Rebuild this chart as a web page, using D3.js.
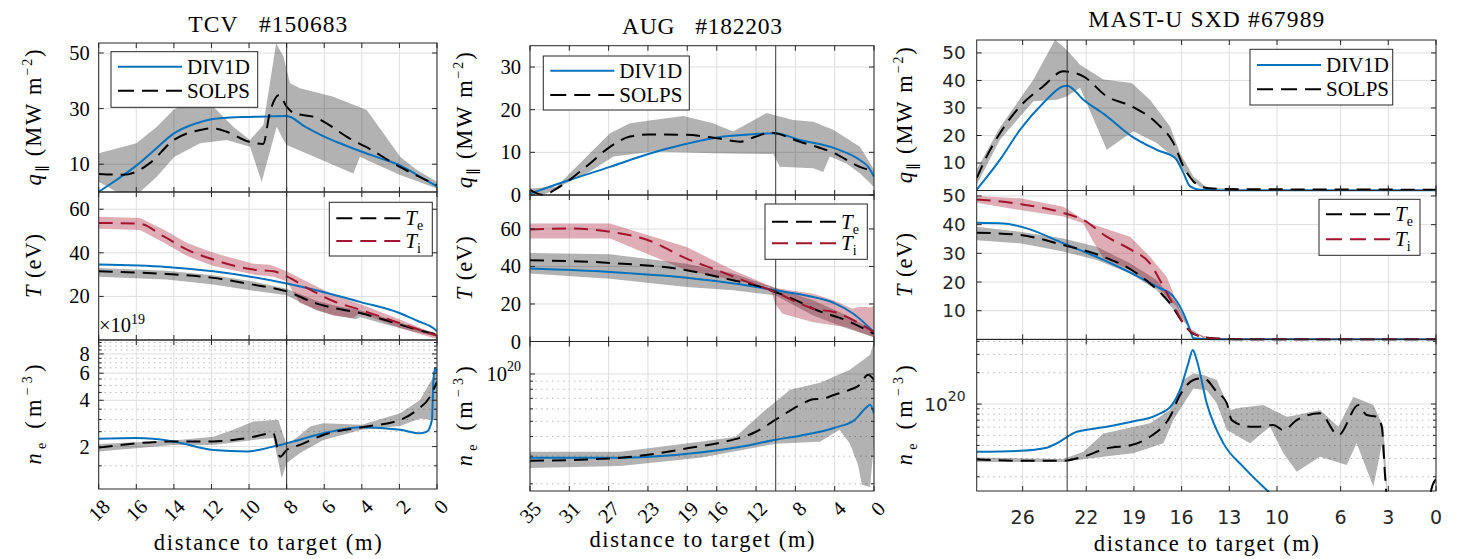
<!DOCTYPE html>
<html>
<head>
<meta charset="utf-8">
<script src="https://cdn.jsdelivr.net/npm/d3@7"></script>
<style>body{margin:0;background:#fff}</style>
</head>
<body>
<svg id="fig" width="1464" height="559"></svg>
<script>
// ---- tick values ----
const tcvXTicks = [18, 16, 14, 12, 10, 8, 6, 4, 2, 0];
const augXTicks = [35, 31, 27, 23, 19, 16, 12, 8, 4, 0];
const mastXTicks = [26, 22, 19, 16, 13, 10, 6, 3, 0];
const tcvQTicks = [10, 30, 50], tcvTTicks = [20, 40, 60];
const tcvNeTicks = [2, 4, 6, 8], tcvNeMinor = [1.5, 2.5, 3, 3.5, 4.5, 5, 5.5, 6.5, 7, 7.5, 8.5, 9, 9.5];
const augQTicks = [0, 10, 20, 30], augTTicks = [0, 20, 40, 60];
const augNeTicks = [10], augNeMinor = [2, 3, 4, 5, 6, 7, 8, 9];
const mastQTicks = [10, 20, 30, 40, 50], mastTTicks = [10, 20, 30, 40, 50];
const mastNeTicks = [10], mastNeMinor = [2, 3, 4, 5, 6, 7, 8, 9, 20, 30, 40];
const markerDist = [8, 10, 23.2];   // thin vertical line per machine

// ---- TCV #150683 ----  [distance (m), value]   n_e in 1e19 m^-3
const tcvQDiv = [[18,0.1],[17,4.6],[16,9.5],[15,15.3],[14,21.1],[13,24.3],[12,26.2],[11,26.8],[10,27.0],[9,27.2],[8,27.3],[7,23.4],[6,19.9],[5,17.1],[4,14.5],[3,12.1],[2,9.7],[1,5.9],[0,2.0]];
const tcvQSolps = [[18,6.5],[16.7,6.2],[16,7.3],[15.3,10.3],[14,18.7],[12.6,22.3],[12,22.9],[11.2,21.7],[10,18.1],[9.25,17.3],[8.9,28.4],[8.4,34.9],[8,30.7],[7.6,28.3],[6.6,27.1],[4.5,18.7],[3.8,16.3],[2,9.1],[0,2.5]];
const tcvQBandUp = [[18,13.9],[16,17.5],[14.9,23.5],[14.03,29.5],[12.97,33.7],[11.9,30.7],[10.84,23.5],[9.95,18.7],[9.24,24.1],[8.56,53.5],[8.17,48.7],[7.82,39.1],[7.29,37.3],[5.51,34.3],[3.74,29.5],[2.85,21.1],[1.96,12.7],[1.07,7.9],[0,3.7]];
const tcvQBandLo = [[18,3.7],[17.04,0],[15.8,0],[14.91,5.5],[13.97,12.7],[12.6,17.5],[11.19,18.7],[9.95,16.3],[9.33,3.7],[8.53,23.5],[8.17,18.7],[8,16.9],[4.45,6.7],[4.1,12.7],[3.74,11.5],[1.96,6.1],[0,1.3]];
const tcvTDiv = [[18,34.6],[14.4,33.5],[11.9,31.5],[9.77,28.8],[8,25.9],[5.5,20.8],[4.1,17.5],[2,12.4],[1,8.6],[0.2,5.5],[0,4]];
const tcvTeSolps = [[18,31.5],[14.4,30.3],[11.9,28.5],[9.77,25.4],[8,22.3],[6.4,16.7],[5.5,14.7],[4.1,12.4],[2.85,9.4],[1.07,4.8],[0,2.5]];
const tcvTeBandUp = [[18,33],[14.4,31.8],[11.9,29.7],[9.77,26.8],[8,23.5],[6.4,18],[5.5,16],[4.1,13.6],[2.85,10.4],[1.07,5.5],[0,3]];
const tcvTeBandLo = [[18,29],[14.4,27.8],[11.9,25.5],[9.77,22.6],[8,20.5],[6.4,13.5],[5.5,11.5],[4.3,9.5],[4.1,10.5],[2.85,7.5],[1.07,3.5],[0,1.5]];
const tcvTiSolps = [[18,53.7],[15.8,53.3],[14.56,47.6],[13.3,41.5],[11.9,36.9],[9.77,32.3],[8.7,31.5],[8,29.2],[6.75,23.1],[5.5,17.8],[4.1,13.9],[2,7.8],[0,2]];
const tcvTiBandUp = [[18,56.5],[15.8,56],[14.5,50.5],[13.3,44.5],[11.9,40],[9.77,35],[8.9,34.5],[8.7,34],[8,31.5],[6.75,26],[5.5,20.8],[4.1,16.5],[2,9.5],[0,2.5]];
const tcvTiBandLo = [[18,51],[15.8,50.5],[14.5,44.5],[13.3,38.5],[11.9,34],[9.77,30],[8.7,29],[8,26.9],[7.3,17],[6.4,13.9],[5.5,11.1],[4.45,10.1],[4.1,12.5],[2,5.5],[0,0.5]];
const tcvNeDiv = [[18,2.25],[16,2.27],[14.03,2.16],[11.9,1.90],[10.1,1.86],[8.71,2.0],[8,2.1],[6.05,2.44],[4,2.67],[1.96,2.57],[0.9,2.44],[0.54,2.5],[0.27,2.98],[0.19,5.4],[0.1,6.46],[0,6.0]];
const tcvNeSolps = [[18,1.97],[14.03,2.16],[11.9,2.16],[10.12,2.27],[8.71,2.44],[8.35,1.72],[8,1.90],[7.29,2.05],[6.05,2.38],[4,2.67],[1.96,2.98],[1.07,3.46],[0.37,4.22],[0,5.29]];
const tcvNeBandUp = [[18,2.08],[14.03,2.19],[11.9,2.32],[10.84,2.57],[9.77,2.91],[8.71,2.98],[8.44,2.98],[8,2.05],[7.29,2.38],[6.75,2.70],[6.05,2.84],[4,2.77],[1.96,3.30],[0.9,4.02],[0.19,5.70],[0,6.46]];
const tcvNeBandLo = [[18,1.86],[14.03,2.05],[11.9,2.05],[9.77,2.21],[8.71,2.27],[8.26,1.25],[8,1.56],[7.29,1.82],[6.05,2.21],[4,2.57],[1.96,2.72],[0.9,3.05],[0.19,2.98],[0,2.98]];

// ---- AUG #182203 ----
const augQDiv = [[35,0.3],[31,3.5],[26.86,6.6],[22.97,9.6],[19.07,12.0],[15.96,13.5],[12.02,14.3],[10.05,14.5],[7.54,12.9],[4.05,11.0],[1.44,8.2],[0.59,6.6],[0,4.3]];
const augQSolps = [[35,1.2],[33.64,0],[32.29,1.5],[31,3.5],[28.9,7.4],[26.86,11.3],[24.83,13.7],[22.97,14.2],[19.07,14.1],[15.96,13.3],[13.65,12.5],[12.02,13.7],[10.59,14.6],[7.54,12.5],[4.05,9.8],[1.44,6.6],[0,5.5]];
const augQBandUp = [[35,1.5],[32.29,2],[28.9,9.8],[26.86,14.5],[24.83,16.8],[22.46,17.6],[19.4,18.5],[16.36,16.8],[14.33,14.9],[10.93,19.2],[8.22,17.6],[6.19,17.2],[4.15,15.3],[1.44,11.3],[0,6]];
const augQBandLo = [[35,0.4],[33.64,0],[31,3.1],[28.9,5.5],[26.5,9.0],[22.46,10.2],[16.36,9.8],[10.25,9.6],[9.58,6.6],[6.19,6.3],[5.17,5.4],[4.5,9.0],[2.8,7.4],[1.44,5.1],[0,1.9]];
const augTDiv = [[35,38.9],[26.86,37.1],[19.07,34],[13.65,30.5],[10.05,27.3],[6.19,23.7],[4.05,20.5],[2.1,14.8],[0,5]];
const augTeSolps = [[35,43.3],[26.86,41.9],[19.07,38],[14.33,32.6],[12.02,29.9],[10.05,26.4],[7.54,21],[6.19,17.5],[2.8,11.2],[0,4.1]];
const augTeBandUp = [[35,47.2],[26.86,46.5],[19.07,41.5],[14.33,36.2],[10.05,28.5],[6.19,22],[2.8,14],[0,6]];
const augTeBandLo = [[35,36.2],[26.86,33.5],[19.07,29],[14.33,27.3],[10.05,24.6],[6.19,13.9],[2.8,7],[0,2.3]];
const augTiSolps = [[35,59.7],[31,60.3],[26.86,58.5],[22.97,54],[19.07,44.2],[15.96,38],[13.3,32.6],[10.05,26.4],[7.54,20.2],[6.19,17.5],[4.05,15.7],[1.44,9.5],[0,5]];
const augTiBandUp = [[35,62.9],[26.86,62.9],[19.07,50.4],[14.33,38],[10.05,28.5],[6.19,25.5],[4.05,21.9],[2.2,17.5],[1.44,18.5],[0.25,18.3],[0,19.3]];
const augTiBandLo = [[35,54.9],[26.86,54.9],[19.07,38],[14.33,32.6],[10.6,29],[10.05,20],[9.3,14.8],[6.19,10.3],[2.8,7.6],[0,2.3]];
const augNeDiv = [[35,2.93],[25.8,2.93],[22.8,2.97],[17.7,3.16],[13.6,3.44],[10,3.82],[7.5,4.05],[4,4.55],[1.94,5.12],[0.82,6.09],[0.4,6.37],[0,5.6]];
const augNeSolps = [[35,2.8],[25.8,2.93],[22.8,3.07],[18.7,3.39],[15.7,3.65],[12,4.29],[10,5.12],[7.5,6.37],[6.2,6.9],[5.3,6.95],[4,7.38],[2.45,7.94],[1.43,8.55],[0.61,9.9],[0,9.2]];
const augNeBandUp = [[35,3.2],[25.8,3.2],[17.7,3.71],[14.1,3.97],[11.6,5.51],[8.55,7.94],[5.5,8.8],[2.45,10.65],[0.4,13.28],[0,16.1]];
const augNeBandLo = [[35,2.52],[25.8,2.6],[17.7,2.93],[10,3.6],[5.5,3.71],[3.5,4.42],[2.45,3.6],[1.63,2.64],[1.23,1.97],[0.4,1.91],[0,3.6]];

// ---- MAST-U SXD #67989 ----
const mastQDiv = [[28.89,0.3],[27.42,11.2],[26.16,22.1],[24.7,31.8],[23.44,37.9],[23.2,38.1],[22.18,33],[20.71,27],[19.14,19.7],[17.57,14.8],[16.41,11.8],[15.89,6.4],[15.47,1.5],[14.84,0.3],[13,0],[0,0]];
const mastQSolps = [[28.89,4.5],[28.26,12.4],[27.42,20.9],[26.16,30.6],[24.7,37.9],[23.44,43.3],[22.18,41.5],[20.71,34.2],[19.14,30.6],[17.57,24.5],[16.52,17.3],[15.89,8.8],[15.26,3.3],[14.42,0.9],[12.95,0.5],[0,0.3]];
const mastQBandUp = [[28.89,7.6],[27.42,23],[25.32,40.3],[23.96,54.8],[23.23,51.2],[22.39,45.7],[20.92,40.3],[19.14,39.1],[17.99,33],[16.73,23.3],[16.1,13.6],[15.26,5.1],[14.42,1.2],[13,0.6],[0,0.5]];
const mastQBandLo = [[28.89,2.1],[27.42,18.5],[25.32,32.4],[23.86,33],[23.23,34.2],[22.39,37.3],[20.71,14.8],[19.04,21.5],[17.57,17.3],[16.31,11.2],[15.89,7.2],[14.84,1.2],[13,0.2],[0,0]];
const mastTDiv = [[28.89,40.7],[27.2,40.4],[25.74,38.7],[23.44,33.5],[20.92,27.7],[19.14,23],[17.57,18.4],[16.52,14.9],[15.89,9.1],[15.47,3.3],[15.26,0.4],[14,0],[0,0]];
const mastTeSolps = [[28.89,37.2],[26.16,36.4],[23.44,32.9],[22.18,31.1],[20.92,28.8],[19.14,24.2],[17.99,19.5],[16.73,12.6],[15.89,5.6],[15.26,1.9],[14.21,0.5],[12,0],[0,0]];
const mastTeBandUp = [[28.89,39.3],[26.16,37.5],[23.44,35.2],[21.34,32.3],[19.24,26.5],[17.57,20.7],[16.31,12.6],[15.5,4],[14.5,0.5],[0,0.3]];
const mastTeBandLo = [[28.89,34.6],[26.16,33.5],[23.44,30.6],[21.34,27.7],[19.24,23],[17.57,17.2],[16.31,9.1],[15.47,3.7],[14.5,0],[0,0]];
const mastTiSolps = [[28.89,48.8],[26.16,47.2],[23.44,44.1],[22.18,41.6],[20.71,35.8],[19.14,31.1],[17.99,26.5],[17.15,18.4],[16.52,12],[15.89,5.6],[15.26,2.1],[14.21,0.4],[12,0],[0,0]];
const mastTiBandUp = [[28.89,50],[26.16,49.2],[23.44,46.2],[21.76,40.4],[19.24,35.8],[17.99,28.8],[16.94,21.8],[16.1,10.2],[15.26,2.1],[14,0.5],[0,0.3]];
const mastTiBandLo = [[28.89,47.6],[26.16,45.1],[23.44,42.8],[22.18,40.4],[21.55,34],[20.92,28.3],[19.24,24.2],[17.57,18.4],[16.31,11.4],[15.47,3.7],[14.5,0],[0,0]];
const mastNeDiv = [[28.89,3.48],[26.16,3.55],[24.5,3.8],[23.86,4.19],[22.6,5.41],[20.92,5.97],[19.14,6.76],[17.57,7.84],[16.62,9.78],[16.1,13.6],[15.58,24.6],[15.3,33],[15.05,26.5],[14.42,10.2],[13.37,4.19],[12.12,2.49],[10.65,1.49],[10,1.2]];
const mastNeSolps = [[28.89,2.94],[26.16,2.85],[23.44,2.85],[22.18,3.12],[20.71,3.75],[19.14,4.04],[17.99,4.85],[16.73,7.55],[16.1,12.2],[15.26,17.0],[14.63,17.7],[13.79,13.1],[13.16,10.2],[12.85,7.01],[11.7,6.05],[11.28,6.05],[10.23,6.28],[9.6,5.62],[8.76,7.01],[7.3,8.14],[6.14,5.03],[4.88,9.78],[4.36,7.84],[3.73,7.55],[3.41,6.05],[3.2,2.0],[3.1,1.3],[2.5,0.5],[0.5,0.5],[0.3,1.5],[0,1.9]];
const mastNeBandUp = [[28.89,3.06],[23.44,2.97],[22.18,3.48],[20.92,5.22],[17.99,6.52],[16.73,8.75],[15.89,17.0],[15.26,19.8],[14.63,19],[13.79,17.0],[12.95,8.75],[12.33,9.2],[10.86,9.78],[9.39,7.55],[8.76,7.84],[7.3,8.75],[6.14,6.05],[5.2,11.75],[3.94,9.78],[3.31,6.05],[3.1,1.84]];
const mastNeBandLo = [[28.89,2.78],[23.44,2.78],[22.18,2.94],[20.92,3.12],[19.04,3.36],[17.15,4.19],[16.52,7.01],[16.1,8.9],[15.26,14.1],[14.42,13.6],[13.79,10.2],[13.16,5.62],[11.7,4.19],[10.44,6.05],[9.6,3.36],[8.76,2.23],[7.3,3.12],[5.62,2.59],[4.99,4.19],[3.94,1.6],[3.41,4.04],[3.1,1.4]];

// ---------------------------------------------------------------
const svg = d3.select("#fig");
svg.append("rect").attr("width", 1464).attr("height", 559).attr("fill", "#fff");

const SERIF = "'Liberation Serif', serif";
const SANS = "'DejaVu Sans', sans-serif";
const BLUE = "#0072BD", RED = "#A2142F", AX = "#262626";
const DASH = "14,8";
let clipN = 0;

const cols = [
  {title: "TCV\u00a0\u00a0\u00a0#150683", titleW: 159, titleY: 32, left: 98.7, right: 437, xDom: [18, 0], xTicks: tcvXTicks,
   rows: [43, 192, 340, 489], ylabX: 41, xlabY: 550, xlabW: 228, font: SERIF, rot: true, vline: markerDist[0],
   q: {dom: [0, 53.6], ticks: tcvQTicks, div: tcvQDiv, solps: tcvQSolps, up: tcvQBandUp, lo: tcvQBandLo},
   T: {dom: [0, 67.9], ticks: tcvTTicks, div: tcvTDiv, te: tcvTeSolps, teUp: tcvTeBandUp, teLo: tcvTeBandLo, ti: tcvTiSolps, tiUp: tcvTiBandUp, tiLo: tcvTiBandLo},
   ne: {dom: [1.06, 9.86], ticks: tcvNeTicks, minor: tcvNeMinor, pow: false, div: tcvNeDiv, solps: tcvNeSolps, up: tcvNeBandUp, lo: tcvNeBandLo},
   legQ: [111, 51.7, 257.7, 107.3, 66.7, 90.7], legT: [329.3, 202.3, 432.3, 256, 218.3, 241]},
  {title: "AUG\u00a0\u00a0\u00a0#182203", titleW: 160, titleY: 34, left: 530, right: 874, xDom: [35, 0], xTicks: augXTicks,
   rows: [45.7, 195, 341.5, 491], ylabX: 472, xlabY: 547, xlabW: 225, font: SERIF, rot: true, vline: markerDist[1],
   q: {dom: [0, 35], ticks: augQTicks, div: augQDiv, solps: augQSolps, up: augQBandUp, lo: augQBandLo},
   T: {dom: [0, 78.1], ticks: augTTicks, div: augTDiv, te: augTeSolps, teUp: augTeBandUp, teLo: augTeBandLo, ti: augTiSolps, tiUp: augTiBandUp, tiLo: augTiBandLo},
   ne: {dom: [1.8, 16.1], ticks: augNeTicks, minor: augNeMinor, pow: true, div: augNeDiv, solps: augNeSolps, up: augNeBandUp, lo: augNeBandLo},
   legQ: [543.3, 56, 689.3, 110, 70.7, 95], legT: [765, 204, 867.3, 259.3, 221.7, 243.3]},
  {title: "MAST-U SXD #67989", titleW: 236, titleY: 27, left: 976.7, right: 1436, xDom: [28.89, 0], xTicks: mastXTicks,
   rows: [40, 190.5, 339.4, 491], ylabX: 912, xlabY: 551, xlabW: 225, font: SANS, rot: false, vline: markerDist[2],
   q: {dom: [0, 54.7], ticks: mastQTicks, div: mastQDiv, solps: mastQSolps, up: mastQBandUp, lo: mastQBandLo},
   T: {dom: [0, 51.9], ticks: mastTTicks, div: mastTDiv, te: mastTeSolps, teUp: mastTeBandUp, teLo: mastTeBandLo, ti: mastTiSolps, tiUp: mastTiBandUp, tiLo: mastTiBandLo},
   ne: {dom: [1.46, 41.8], ticks: mastNeTicks, minor: mastNeMinor, pow: true, div: mastNeDiv, solps: mastNeSolps, up: mastNeBandUp, lo: mastNeBandLo},
   legQ: [1250, 49.3, 1392.7, 105, 65, 89.3], legT: [1319, 199.3, 1420, 255.3, 214.3, 239.3]}
];

function band(g, x, y, up, lo, color, op) {
  const pts = up.concat(lo.slice().reverse());
  g.append("path")
    .attr("d", d3.line().x(d => x(d[0])).y(d => y(d[1]))(pts) + "Z")
    .attr("fill", color).attr("fill-opacity", op).attr("stroke", "none");
}
function curve(g, x, y, data, color, dash) {
  g.append("path")
    .attr("d", d3.line().x(d => x(d[0])).y(d => y(d[1])).curve(d3.curveMonotoneX)(data))
    .attr("fill", "none").attr("stroke", color).attr("stroke-width", 2)
    .attr("stroke-dasharray", dash || null);
}

function addTspans(t, parts) {
  parts.forEach(p => {
    const s = t.append("tspan").text(p.t);
    if (p.it) s.attr("font-style", "italic");
    if (p.dy) s.attr("dy", p.dy);
    if (p.fs) s.attr("font-size", p.fs);
  });
}

function legend(box, entries) {
  const [x0, y0, x1, y1, ya, yb] = box;
  const g = svg.append("g");
  g.append("rect").attr("x", x0).attr("y", y0).attr("width", x1 - x0).attr("height", y1 - y0)
    .attr("fill", "#fff").attr("stroke", AX).attr("stroke-width", 1);
  [ya, yb].forEach((yy, i) => {
    const e = entries[i];
    g.append("line").attr("x1", x0 + 7).attr("x2", x0 + 71).attr("y1", yy).attr("y2", yy)
      .attr("stroke", e.color).attr("stroke-width", 2).attr("stroke-dasharray", e.dash ? "16,8" : null);
    const t = g.append("text").attr("x", x0 + 76).attr("y", yy + 7)
      .attr("font-family", SERIF).attr("font-size", 21).attr("fill", "#000");
    addTspans(t, e.parts);
  });
}

function drawPanel(c, r, spec, isLog) {
  const top = c.rows[r], bottom = c.rows[r + 1], L = c.left, R = c.right;
  const x = d3.scaleLinear().domain(c.xDom).range([L, R]);
  const y = (isLog ? d3.scaleLog() : d3.scaleLinear()).domain(spec.dom).range([bottom, top]);
  const g = svg.append("g");
  const id = "clip" + (clipN++);
  svg.append("clipPath").attr("id", id).append("rect")
    .attr("x", L).attr("y", top - 1).attr("width", R - L).attr("height", bottom - top + 2);

  // grid
  if (spec.minor) {
    g.selectAll(null).data(spec.minor.filter(v => v > spec.dom[0] && v < spec.dom[1])).join("line")
      .attr("x1", L).attr("x2", R).attr("y1", d => y(d)).attr("y2", d => y(d))
      .attr("stroke", "#b8b8b8").attr("stroke-width", 1).attr("stroke-dasharray", "1.5,4");
  }
  g.selectAll(null).data(spec.ticks).join("line")
    .attr("x1", L).attr("x2", R).attr("y1", d => y(d)).attr("y2", d => y(d))
    .attr("stroke", "#dedede").attr("stroke-width", 1);
  g.selectAll(null).data(c.xTicks).join("line")
    .attr("x1", d => x(d)).attr("x2", d => x(d)).attr("y1", top).attr("y2", bottom)
    .attr("stroke", "#dedede").attr("stroke-width", 1);

  const p = g.append("g").attr("clip-path", `url(#${id})`);
  if (r === 1) {
    band(p, x, y, spec.teUp, spec.teLo, "#000", 0.3);
    band(p, x, y, spec.tiUp, spec.tiLo, RED, 0.35);
    curve(p, x, y, spec.div, BLUE);
    curve(p, x, y, spec.te, "#000", DASH);
    curve(p, x, y, spec.ti, RED, DASH);
  } else {
    band(p, x, y, spec.up, spec.lo, "#000", 0.3);
    curve(p, x, y, spec.div, BLUE);
    curve(p, x, y, spec.solps, "#000", DASH);
  }

  // marker line
  g.append("line").attr("x1", x(c.vline)).attr("x2", x(c.vline)).attr("y1", top).attr("y2", bottom)
    .attr("stroke", "#333").attr("stroke-width", 1);

  // frame + ticks
  g.append("rect").attr("x", L).attr("y", top).attr("width", R - L).attr("height", bottom - top)
    .attr("fill", "none").attr("stroke", AX).attr("stroke-width", 1);
  c.xTicks.forEach(t => {
    g.append("line").attr("x1", x(t)).attr("x2", x(t)).attr("y1", top).attr("y2", top + 5).attr("stroke", AX);
    g.append("line").attr("x1", x(t)).attr("x2", x(t)).attr("y1", bottom).attr("y2", bottom - 5).attr("stroke", AX);
  });
  spec.ticks.forEach(t => {
    g.append("line").attr("x1", L).attr("x2", L + 5).attr("y1", y(t)).attr("y2", y(t)).attr("stroke", AX);
    g.append("line").attr("x1", R).attr("x2", R - 5).attr("y1", y(t)).attr("y2", y(t)).attr("stroke", AX);
  });
  if (spec.minor) spec.minor.filter(v => v > spec.dom[0] && v < spec.dom[1]).forEach(t => {
    g.append("line").attr("x1", L).attr("x2", L + 3).attr("y1", y(t)).attr("y2", y(t)).attr("stroke", AX);
    g.append("line").attr("x1", R).attr("x2", R - 3).attr("y1", y(t)).attr("y2", y(t)).attr("stroke", AX);
  });

  // y tick labels
  const sans = c.font === SANS;
  spec.ticks.forEach(t => {
    const tx = g.append("text").attr("x", L - (sans ? 11 : 9)).attr("y", y(t))
      .attr("text-anchor", "end").attr("dominant-baseline", "central")
      .attr("font-family", c.font).attr("font-size", sans ? 18.5 : 20.5).attr("fill", sans ? AX : "#000");
    if (spec.pow) {
      tx.append("tspan").text("10");
      tx.append("tspan").text("20").attr("font-size", 14).attr("dy", -8);
    } else tx.text(t);
  });

  // x tick labels on bottom row
  if (r === 2) {
    c.xTicks.forEach(t => {
      if (c.rot) {
        g.append("text").attr("transform", `translate(${x(t) + 7.5},${bottom + 14}) rotate(-45)`)
          .attr("text-anchor", "end").attr("dominant-baseline", "central")
          .attr("font-family", c.font).attr("font-size", 20.5).attr("fill", "#000").text(t);
      } else {
        g.append("text").attr("x", x(t)).attr("y", 524).attr("text-anchor", "middle")
          .attr("font-family", c.font).attr("font-size", 19).attr("fill", AX).text(t);
      }
    });
  }
}

const ylabW = [136, 64, 100];
cols.forEach(c => {
  drawPanel(c, 0, c.q, false);
  drawPanel(c, 1, c.T, false);
  drawPanel(c, 2, c.ne, true);

  const cx = (c.left + c.right) / 2;
  svg.append("text").attr("x", cx - c.titleW / 2).attr("y", c.titleY)
    .attr("font-family", SERIF).attr("font-size", 23.5).attr("fill", "#000")
    .attr("textLength", c.titleW).attr("lengthAdjust", "spacing").text(c.title);

  svg.append("text").attr("x", cx - c.xlabW / 2).attr("y", c.xlabY)
    .attr("font-family", SERIF).attr("font-size", 22.5).attr("fill", "#000")
    .attr("textLength", c.xlabW).attr("lengthAdjust", "spacing").text("distance to target (m)");

  const labs = [
    [{t: "q", it: 1}, {t: "∥", dy: 5, fs: 14}, {t: " (MW m", dy: -5}, {t: "−2", dy: -9, fs: 14}, {t: ")", dy: 9}],
    [{t: "T", it: 1}, {t: " (eV)"}],
    [{t: "n", it: 1}, {t: "e", dy: 5, fs: 14}, {t: " (m", dy: -5}, {t: "−3", dy: -9, fs: 14}, {t: ")", dy: 9}]
  ];
  labs.forEach((parts, i) => {
    const yc = (c.rows[i] + c.rows[i + 1]) / 2;
    const t = svg.append("text").attr("transform", `translate(${c.ylabX},${yc + ylabW[i] / 2}) rotate(-90)`)
      .attr("font-family", SERIF).attr("font-size", 22.5).attr("fill", "#000")
      .attr("textLength", ylabW[i]).attr("lengthAdjust", "spacing");
    addTspans(t, parts);
  });

  legend(c.legQ, [
    {color: BLUE, parts: [{t: "DIV1D"}]},
    {color: "#000", dash: DASH, parts: [{t: "SOLPS"}]}
  ]);
  legend(c.legT, [
    {color: "#000", dash: DASH, parts: [{t: "T", it: 1}, {t: "e", dy: 5, fs: 14}]},
    {color: RED, dash: DASH, parts: [{t: "T", it: 1}, {t: "i", dy: 5, fs: 14}]}
  ]);
});

// exponent label of the TCV density axis
const ex = svg.append("text").attr("x", 99).attr("y", 332).attr("font-family", SERIF).attr("font-size", 20.5).attr("fill", "#000");
ex.append("tspan").text("×10");
ex.append("tspan").attr("font-size", 14).attr("dy", -8).text("19");
</script>
</body>
</html>
